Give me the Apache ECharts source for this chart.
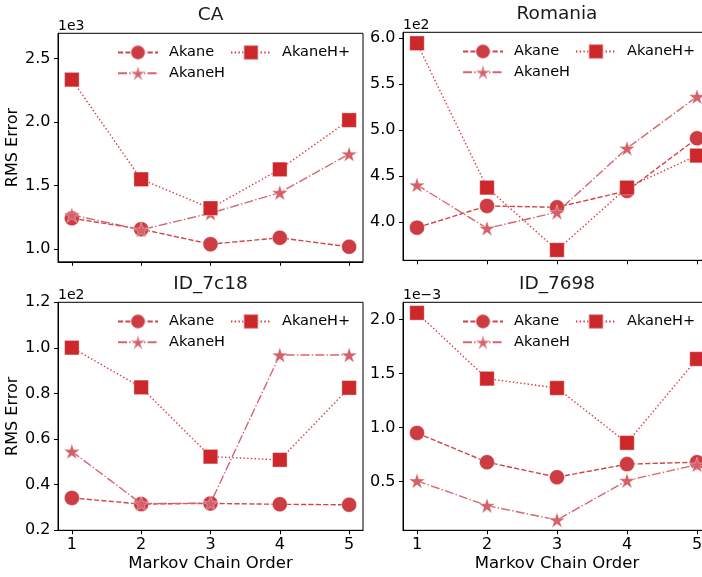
<!DOCTYPE html>
<html>
<head>
<meta charset="utf-8">
<script src="https://cdn.jsdelivr.net/npm/echarts@6/dist/echarts.min.js"></script>
<style>html,body{margin:0;padding:0;background:#fff}#c{width:702px;height:577px}</style>
</head>
<body>
<div id="c"></div>
<script>
// ---- data ----
const orders = [1, 2, 3, 4, 5];
const seriesNames = ['Akane', 'AkaneH', 'AkaneH+'];
const panelTitles = ['CA', 'Romania', 'ID_7c18', 'ID_7698'];
const scaleLabels = ['1e3', '1e2', '1e2', '1e\u22123'];
const scales = [1e3, 1e2, 1e2, 1e-3];

const caAkane   = [1243, 1157, 1039, 1089, 1018];
const caAkaneH  = [1270, 1152, 1283, 1445, 1749];
const caAkaneHp = [2335, 1550, 1322, 1628, 2016];

const roAkane   = [394.2, 417.8, 416.3, 434.1, 491.3];
const roAkaneH  = [440.6, 393.5, 410.9, 480.4, 536.6];
const roAkaneHp = [594.6, 437.7, 369.9, 437.7, 472.5];

const c18Akane   = [34.2, 31.5, 31.8, 31.4, 31.2];
const c18AkaneH  = [54.6, 31.7, 31.9, 96.9, 96.9];
const c18AkaneHp = [100.1, 82.7, 52.3, 50.9, 82.5];

const d98Akane   = [0.000950, 0.000679, 0.000540, 0.000661, 0.000679];
const d98AkaneH  = [0.000506, 0.000277, 0.000144, 0.000509, 0.000655];
const d98AkaneHp = [0.002062, 0.001453, 0.001366, 0.000858, 0.001635];

const yTicks = [
  [1000, 1500, 2000, 2500],
  [400, 450, 500, 550, 600],
  [20, 40, 60, 80, 100, 120],
  [0.0005, 0.0010, 0.0015, 0.0020]
];
const yRanges = [[900, 2700], [358.7, 606.5], [20, 120], [0.000048, 0.00216]];
const panelData = [
  [caAkane, caAkaneH, caAkaneHp],
  [roAkane, roAkaneH, roAkaneHp],
  [c18Akane, c18AkaneH, c18AkaneHp],
  [d98Akane, d98AkaneH, d98AkaneHp]
];

// ---- styling ----
const FONT = 'DejaVu Sans';
const grids = [
  {left: 58, top: 33.3, width: 305, height: 228.5},
  {left: 403, top: 32.3, width: 308, height: 228},
  {left: 58, top: 302.3, width: 305, height: 228},
  {left: 403, top: 302.3, width: 308, height: 228}
];
const colors = ['#cc3c42', '#d4616a', '#cc282b'];
const lineColors = ['#d0454a', '#d6666e', '#e0343a'];
const dashes = [[5.2, 2.2], [9, 2.2, 1.4, 2.2], [1.4, 2.3]];

function starPath() {
  let s = 'path://';
  for (let k = 0; k < 10; k++) {
    const a = (-90 + k * 36) * Math.PI / 180;
    const r = k % 2 === 0 ? 10 : 3.82;
    s += (k === 0 ? 'M' : 'L') + (r * Math.cos(a)).toFixed(3) + ' ' + (r * Math.sin(a)).toFixed(3) + ' ';
  }
  return s + 'Z';
}
const symbols = ['circle', starPath(), 'rect'];
const symbolSizes = [15, 16, 14.5];

const xAxes = [], yAxes = [], series = [], legends = [], graphics = [];
grids.forEach((g, i) => {
  const bottomRow = i >= 2;
  xAxes.push({
    type: 'value', gridIndex: i, min: 0.8, max: 5.2,
    axisLine: {show: true, onZero: false, lineStyle: {color: '#000', width: 1}},
    axisTick: {show: true, length: 4, inside: false, customValues: orders, lineStyle: {color: '#000', width: 1}},
    axisLabel: {show: bottomRow, customValues: orders, margin: 7, fontFamily: FONT, fontSize: 16, color: '#000',
      formatter: v => String(v)},
    splitLine: {show: false},
    name: bottomRow ? 'Markov Chain Order' : '',
    nameLocation: 'middle', nameGap: 25,
    nameTextStyle: {fontFamily: FONT, fontSize: 16.5, color: '#000'}
  });
  const sc = scales[i];
  yAxes.push({
    type: 'value', gridIndex: i, min: yRanges[i][0], max: yRanges[i][1],
    axisLine: {show: true, onZero: false, lineStyle: {color: '#000', width: 1}},
    axisTick: {show: true, length: 4, inside: false, customValues: yTicks[i], lineStyle: {color: '#000', width: 1}},
    axisLabel: {show: true, customValues: yTicks[i], margin: 7.5, fontFamily: FONT, fontSize: 16, color: '#000',
      showMinLabel: true, showMaxLabel: true,
      formatter: v => (v / sc).toFixed(1)},
    splitLine: {show: false},
    name: (i % 2 === 0) ? 'RMS Error' : '',
    nameLocation: 'middle', nameGap: 35, nameRotate: 90,
    nameTextStyle: {fontFamily: FONT, fontSize: 16, color: '#000'}
  });
  panelData[i].forEach((vals, s) => {
    series.push({
      type: 'line', name: seriesNames[s], xAxisIndex: i, yAxisIndex: i,
      data: orders.map((o, k) => [o, vals[k]]),
      symbol: symbols[s], symbolSize: symbolSizes[s], symbolKeepAspect: true,
      showAllSymbol: true, clip: false,
      lineStyle: {color: lineColors[s], width: 1.4, type: dashes[s]},
      itemStyle: {color: colors[s], borderColor: 'rgba(255,255,255,0.35)', borderWidth: 1, opacity: 1},
      emphasis: {disabled: true}, animation: false, z: 2 + s
    });
  });
  const legBase = {
    orient: 'vertical', itemWidth: 40, itemHeight: 18, itemGap: 4.4, padding: 0,
    selectedMode: false,
    textStyle: {fontFamily: FONT, fontSize: 14.5, color: '#000', padding: [0, 0, 0, 6]}
  };
  legends.push(Object.assign({}, legBase, {data: ['Akane', 'AkaneH'], left: g.left + 59, top: g.top + 11}));
  legends.push(Object.assign({}, legBase, {data: ['AkaneH+'], left: g.left + 172, top: g.top + 11}));
  graphics.push({
    type: 'text', x: g.left + g.width / 2, y: g.top - 18,
    style: {text: panelTitles[i], font: '18.5px "' + FONT + '"', fill: '#1a1a1a', textAlign: 'center', textVerticalAlign: 'middle'}
  });
  graphics.push({
    type: 'text', x: g.left, y: g.top - 7.3,
    style: {text: scaleLabels[i], font: '14px "' + FONT + '"', fill: '#000', textAlign: 'left', textVerticalAlign: 'middle'}
  });
});

const chart = echarts.init(document.getElementById('c'), null, {renderer: 'canvas'});
chart.setOption({
  animation: false,
  backgroundColor: '#fff',
  grid: grids.map(g => Object.assign({show: true, borderColor: '#000', borderWidth: 1, backgroundColor: 'transparent', containLabel: false, outerBoundsMode: 'none'}, g)),
  xAxis: xAxes,
  yAxis: yAxes,
  legend: legends,
  series: series,
  graphic: graphics,
  tooltip: {show: false}
});
</script>
</body>
</html>
